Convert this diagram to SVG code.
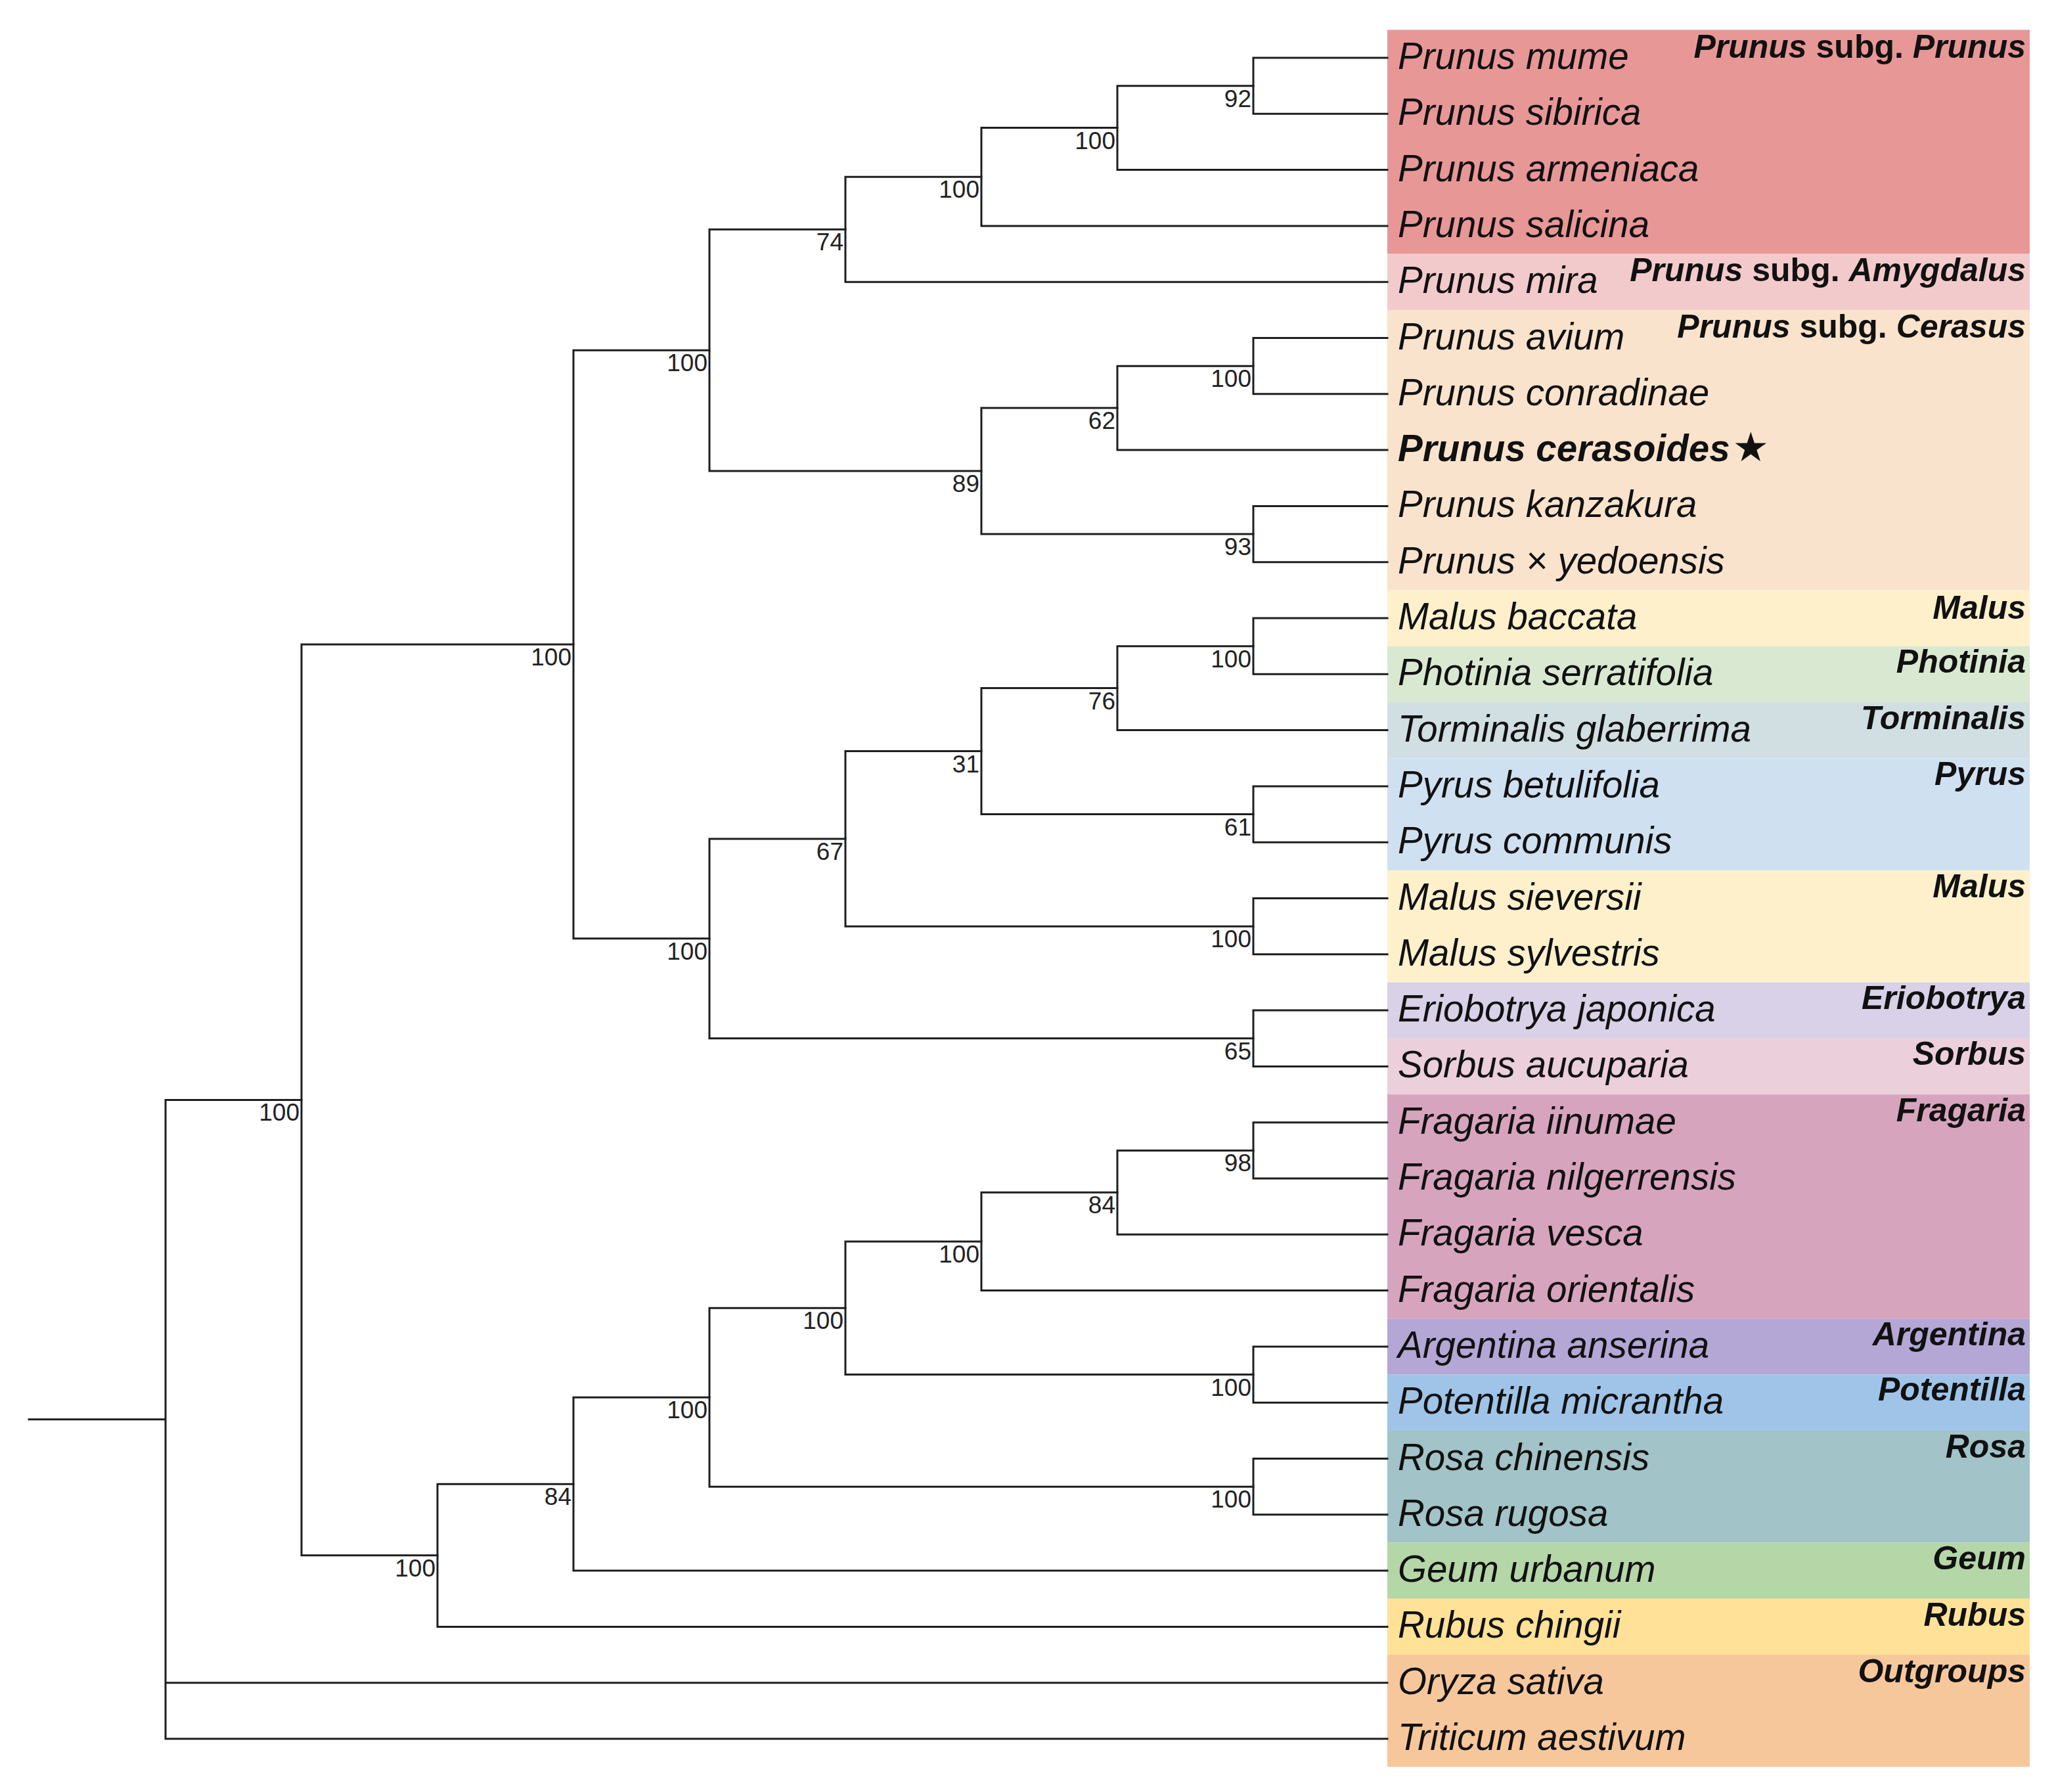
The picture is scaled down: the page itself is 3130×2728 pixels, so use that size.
<svg xmlns="http://www.w3.org/2000/svg" width="3130" height="2728" viewBox="0 0 3130 2728">
<style>
.br{fill:none;stroke:#1e1e1e;stroke-width:3;stroke-linecap:square}
.bs{font-family:"Liberation Sans",Arial,sans-serif;font-size:37px;fill:#222;text-anchor:end}
.tx{font-family:"Liberation Sans",Arial,sans-serif;font-size:56.5px;font-style:italic;fill:#111}
.cl{font-family:"Liberation Sans",Arial,sans-serif;font-size:50px;font-weight:bold;fill:#111;text-anchor:end}
.it{font-style:italic}
</style>
<rect width="3130" height="2728" fill="#ffffff"/>
<g id="bands">
<rect x="2112" y="45.4" width="978" height="341.2" fill="#E89797"/>
<rect x="2112" y="386.6" width="978" height="85.3" fill="#F3CACB"/>
<rect x="2112" y="471.9" width="978" height="426.5" fill="#FAE3CC"/>
<rect x="2112" y="898.4" width="978" height="85.3" fill="#FFF0CC"/>
<rect x="2112" y="983.7" width="978" height="85.3" fill="#D9E9D1"/>
<rect x="2112" y="1069" width="978" height="85.3" fill="#D1DFE3"/>
<rect x="2112" y="1154.3" width="978" height="170.6" fill="#CFE0F1"/>
<rect x="2112" y="1324.9" width="978" height="170.6" fill="#FFF0CC"/>
<rect x="2112" y="1495.5" width="978" height="85.3" fill="#D9D1E7"/>
<rect x="2112" y="1580.8" width="978" height="85.3" fill="#EBCFDB"/>
<rect x="2112" y="1666.1" width="978" height="341.2" fill="#D7A4BE"/>
<rect x="2112" y="2007.3" width="978" height="85.3" fill="#B4A6D5"/>
<rect x="2112" y="2092.6" width="978" height="85.3" fill="#9FC4E7"/>
<rect x="2112" y="2177.9" width="978" height="170.6" fill="#A2C3C7"/>
<rect x="2112" y="2348.5" width="978" height="85.3" fill="#B5D6A7"/>
<rect x="2112" y="2433.8" width="978" height="85.3" fill="#FFE198"/>
<rect x="2112" y="2519.1" width="978" height="170.6" fill="#F7C79C"/>
</g>
<g id="connectors">
<path class="br" d="M2112 88 H1908 V173.3 H2112"/>
<path class="br" d="M1908 130.7 H1701 V258.6 H2112"/>
<path class="br" d="M1701 194.6 H1494 V343.9 H2112"/>
<path class="br" d="M1494 269.3 H1287 V429.2 H2112"/>
<path class="br" d="M2112 514.5 H1908 V599.8 H2112"/>
<path class="br" d="M1908 557.2 H1701 V685.1 H2112"/>
<path class="br" d="M2112 770.4 H1908 V855.7 H2112"/>
<path class="br" d="M1701 621.1 H1494 V813 H1908"/>
<path class="br" d="M1287 349.2 H1080 V717.1 H1494"/>
<path class="br" d="M2112 941 H1908 V1026.3 H2112"/>
<path class="br" d="M1908 983.7 H1701 V1111.6 H2112"/>
<path class="br" d="M2112 1196.9 H1908 V1282.2 H2112"/>
<path class="br" d="M1701 1047.6 H1494 V1239.6 H1908"/>
<path class="br" d="M2112 1367.5 H1908 V1452.8 H2112"/>
<path class="br" d="M1494 1143.6 H1287 V1410.2 H1908"/>
<path class="br" d="M2112 1538.1 H1908 V1623.4 H2112"/>
<path class="br" d="M1287 1276.9 H1080 V1580.8 H1908"/>
<path class="br" d="M1080 533.2 H873 V1428.8 H1080"/>
<path class="br" d="M2112 1708.7 H1908 V1794 H2112"/>
<path class="br" d="M1908 1751.4 H1701 V1879.3 H2112"/>
<path class="br" d="M1701 1815.3 H1494 V1964.6 H2112"/>
<path class="br" d="M2112 2049.9 H1908 V2135.2 H2112"/>
<path class="br" d="M1494 1890 H1287 V2092.6 H1908"/>
<path class="br" d="M2112 2220.5 H1908 V2305.8 H2112"/>
<path class="br" d="M1287 1991.3 H1080 V2263.2 H1908"/>
<path class="br" d="M1080 2127.2 H873 V2391.1 H2112"/>
<path class="br" d="M873 2259.2 H666 V2476.4 H2112"/>
<path class="br" d="M873 981 H459 V2367.8 H666"/>
<path class="br" d="M459 1674.4 H252 V2647 H2112 M252 2561.7 H2112 M44 2160.7 H252"/>
</g>
<g id="support">
<text class="bs" x="1905" y="162.7">92</text>
<text class="bs" x="1698" y="226.6">100</text>
<text class="bs" x="1491" y="301.3">100</text>
<text class="bs" x="1284" y="381.2">74</text>
<text class="bs" x="1077" y="565.2">100</text>
<text class="bs" x="870" y="1013">100</text>
<text class="bs" x="456" y="1706.4">100</text>
<text class="bs" x="1905" y="589.2">100</text>
<text class="bs" x="1698" y="653.1">62</text>
<text class="bs" x="1491" y="749.1">89</text>
<text class="bs" x="1905" y="845">93</text>
<text class="bs" x="1905" y="1015.7">100</text>
<text class="bs" x="1698" y="1079.6">76</text>
<text class="bs" x="1491" y="1175.6">31</text>
<text class="bs" x="1905" y="1271.6">61</text>
<text class="bs" x="1284" y="1308.9">67</text>
<text class="bs" x="1905" y="1442.2">100</text>
<text class="bs" x="1077" y="1460.8">100</text>
<text class="bs" x="1905" y="1612.8">65</text>
<text class="bs" x="1905" y="1783.4">98</text>
<text class="bs" x="1698" y="1847.3">84</text>
<text class="bs" x="1491" y="1922">100</text>
<text class="bs" x="1284" y="2023.3">100</text>
<text class="bs" x="1905" y="2124.6">100</text>
<text class="bs" x="1077" y="2159.2">100</text>
<text class="bs" x="1905" y="2295.2">100</text>
<text class="bs" x="870" y="2291.2">84</text>
<text class="bs" x="663" y="2399.8">100</text>
</g>
<g id="taxa">
<g id="t-mume"><text class="tx" x="2128" y="105">Prunus mume</text></g>
<g id="t-sibirica"><text class="tx" x="2128" y="190.3">Prunus sibirica</text></g>
<g id="t-armeniaca"><text class="tx" x="2128" y="275.6">Prunus armeniaca</text></g>
<g id="t-salicina"><text class="tx" x="2128" y="360.9">Prunus salicina</text></g>
<g id="t-mira"><text class="tx" x="2128" y="446.2">Prunus mira</text></g>
<g id="t-avium"><text class="tx" x="2128" y="531.5">Prunus avium</text></g>
<g id="t-conradinae"><text class="tx" x="2128" y="616.8">Prunus conradinae</text></g>
<g id="t-cerasoides"><text class="tx" x="2128" y="702.1" font-weight="bold">Prunus cerasoides<tspan dx="4" font-family="DejaVu Sans,sans-serif" font-style="normal" font-weight="normal" font-size="62">★</tspan></text></g>
<g id="t-kanzakura"><text class="tx" x="2128" y="787.4">Prunus kanzakura</text></g>
<g id="t-yedoensis"><text class="tx" x="2128" y="872.7">Prunus × yedoensis</text></g>
<g id="t-baccata"><text class="tx" x="2128" y="958">Malus baccata</text></g>
<g id="t-photinia"><text class="tx" x="2128" y="1043.3">Photinia serratifolia</text></g>
<g id="t-torminalis"><text class="tx" x="2128" y="1128.6">Torminalis glaberrima</text></g>
<g id="t-betulifolia"><text class="tx" x="2128" y="1213.9">Pyrus betulifolia</text></g>
<g id="t-communis"><text class="tx" x="2128" y="1299.2">Pyrus communis</text></g>
<g id="t-sieversii"><text class="tx" x="2128" y="1384.5">Malus sieversii</text></g>
<g id="t-sylvestris"><text class="tx" x="2128" y="1469.8">Malus sylvestris</text></g>
<g id="t-eriobotrya"><text class="tx" x="2128" y="1555.1">Eriobotrya japonica</text></g>
<g id="t-sorbus"><text class="tx" x="2128" y="1640.4">Sorbus aucuparia</text></g>
<g id="t-iinumae"><text class="tx" x="2128" y="1725.7">Fragaria iinumae</text></g>
<g id="t-nilgerrensis"><text class="tx" x="2128" y="1811">Fragaria nilgerrensis</text></g>
<g id="t-vesca"><text class="tx" x="2128" y="1896.3">Fragaria vesca</text></g>
<g id="t-orientalis"><text class="tx" x="2128" y="1981.6">Fragaria orientalis</text></g>
<g id="t-argentina"><text class="tx" x="2128" y="2066.9">Argentina anserina</text></g>
<g id="t-potentilla"><text class="tx" x="2128" y="2152.2">Potentilla micrantha</text></g>
<g id="t-chinensis"><text class="tx" x="2128" y="2237.5">Rosa chinensis</text></g>
<g id="t-rugosa"><text class="tx" x="2128" y="2322.8">Rosa rugosa</text></g>
<g id="t-geum"><text class="tx" x="2128" y="2408.1">Geum urbanum</text></g>
<g id="t-rubus"><text class="tx" x="2128" y="2493.4">Rubus chingii</text></g>
<g id="t-oryza"><text class="tx" x="2128" y="2578.7">Oryza sativa</text></g>
<g id="t-triticum"><text class="tx" x="2128" y="2664">Triticum aestivum</text></g>
</g>
<g id="clades">
<text class="cl" x="3084" y="88"><tspan class="it">Prunus</tspan> subg. <tspan class="it">Prunus</tspan></text>
<text class="cl" x="3084" y="428"><tspan class="it">Prunus</tspan> subg. <tspan class="it">Amygdalus</tspan></text>
<text class="cl" x="3084" y="514"><tspan class="it">Prunus</tspan> subg. <tspan class="it">Cerasus</tspan></text>
<text class="cl it" x="3084" y="942">Malus</text>
<text class="cl it" x="3084" y="1024">Photinia</text>
<text class="cl it" x="3084" y="1110">Torminalis</text>
<text class="cl it" x="3084" y="1195">Pyrus</text>
<text class="cl it" x="3084" y="1366">Malus</text>
<text class="cl it" x="3084" y="1536">Eriobotrya</text>
<text class="cl it" x="3084" y="1621">Sorbus</text>
<text class="cl it" x="3084" y="1707">Fragaria</text>
<text class="cl it" x="3084" y="2048">Argentina</text>
<text class="cl it" x="3084" y="2132">Potentilla</text>
<text class="cl it" x="3084" y="2219">Rosa</text>
<text class="cl it" x="3084" y="2389">Geum</text>
<text class="cl it" x="3084" y="2475">Rubus</text>
<text class="cl it" x="3084" y="2561">Outgroups</text>
</g>
</svg>
